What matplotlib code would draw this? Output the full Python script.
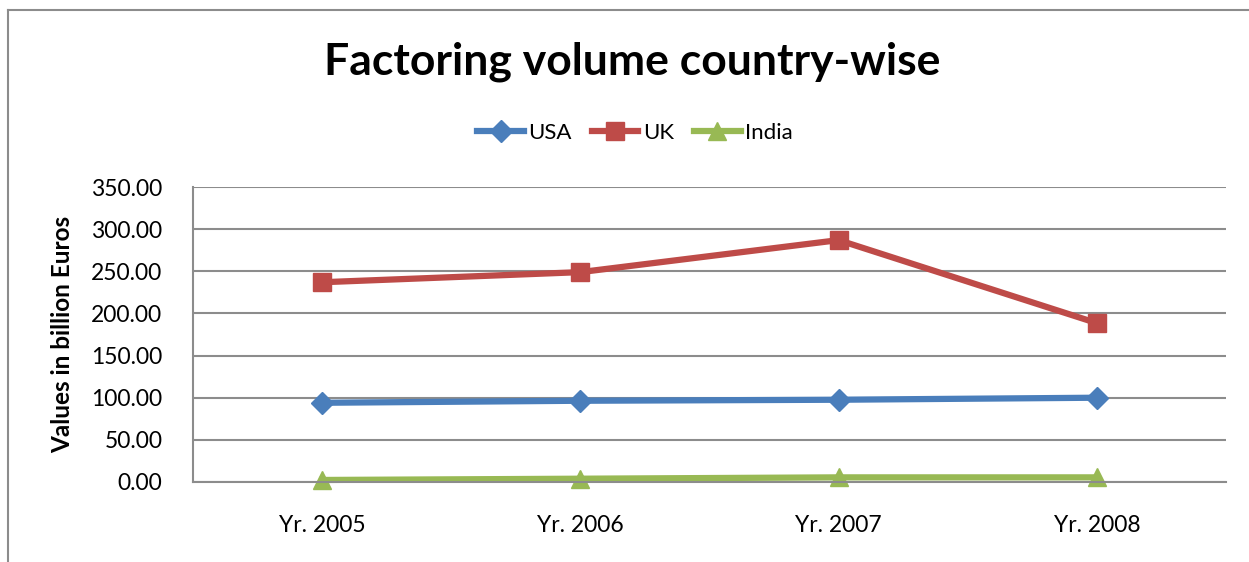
import matplotlib
matplotlib.use("Agg")
import matplotlib.pyplot as plt
from matplotlib.lines import Line2D
from matplotlib.ticker import FormatStrFormatter

categories = ["Yr. 2005", "Yr. 2006", "Yr. 2007", "Yr. 2008"]
usa = [94.0, 96.4, 97.6, 100.0]
uk = [237.0, 249.0, 287.0, 188.5]
india = [2.4, 3.9, 5.5, 5.5]
yticks = [0, 50, 100, 150, 200, 250, 300, 350]

plt.rcParams['font.family'] = ['Lato', 'DejaVu Sans']

W, H = 1249, 562
fig = plt.figure(figsize=(W / 100, H / 100), dpi=100)

# outer chart frame (only top/left visible in reference)
fig.add_artist(Line2D([8 / W, 8 / W], [0, 1 - 10 / H], transform=fig.transFigure,
                      color="#8c8c8c", lw=1.5))
fig.add_artist(Line2D([8 / W, 1], [1 - 10 / H, 1 - 10 / H], transform=fig.transFigure,
                      color="#8c8c8c", lw=1.5))

ax = fig.add_axes([193 / W, (H - 482) / H, (1226 - 193) / W, (482 - 187) / H])

x = list(range(len(categories)))
ax.plot(x, usa, color="#4a7ebb", lw=4.5, marker="D", markersize=11, label="USA", clip_on=False)
ax.plot(x, uk, color="#be4b48", lw=4.5, marker="s", markersize=13, label="UK", clip_on=False)
ax.plot(x, india, color="#98b954", lw=4.5, marker="^", markersize=13, label="India", clip_on=False)

ax.set_xlim(-0.5, 3.5)
ax.set_ylim(0, 350)
ax.set_yticks(yticks)
ax.yaxis.set_major_formatter(FormatStrFormatter("%.2f"))
ax.set_xticks(x)
ax.set_xticklabels(categories)
ax.grid(axis="y", color="#8c8c8c", lw=1.5)
ax.set_axisbelow(True)
for s in ["top", "right"]:
    ax.spines[s].set_visible(False)
ax.spines["left"].set_color("#8c8c8c")
ax.spines["left"].set_linewidth(1.5)
ax.spines["bottom"].set_color("#8c8c8c")
ax.spines["bottom"].set_linewidth(1.5)
ax.tick_params(axis="both", length=0, labelsize=16.5)
ax.tick_params(axis="x", pad=24)
ax.tick_params(axis="y", pad=22)
ax.set_ylabel("Values in billion Euros", fontsize=17.5, fontweight="bold", labelpad=12)

fig.text(632 / W, 1 - 62 / H, "Factoring volume country-wise", ha="center", va="center",
         fontsize=32, fontweight="bold")
fig.legend(loc="center", bbox_to_anchor=(635 / W, 1 - 133 / H), ncol=3, frameon=False,
           fontsize=16, handlelength=2.1, columnspacing=0.9, handletextpad=0.2)

fig.savefig("out.png", dpi=100)
